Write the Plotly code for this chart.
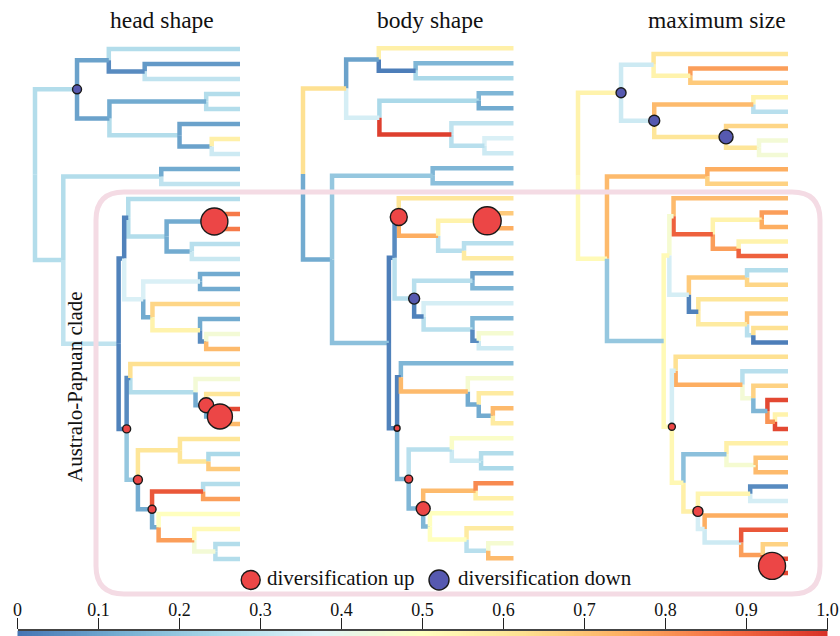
import numpy as np
import plotly.graph_objects as go

# ---------------- data ----------------
# shared phylogeny: child -> parent (children listed top-to-bottom)
TREE_PARENT = {
    "A": "root", "A1": "A", "t01": "A1", "A1a": "A1", "t02": "A1a", "t03": "A1a",
    "A2": "A", "A2a": "A2", "t04": "A2a", "t05": "A2a", "A2b": "A2", "t06": "A2b",
    "A2b1": "A2b", "t07": "A2b1", "t08": "A2b1",
    "B": "root", "C": "B", "t09": "C", "t10": "C",
    "D": "B", "N1": "D", "Q": "N1", "t11": "Q", "Q1": "Q", "Q1a": "Q1", "t12": "Q1a", "t13": "Q1a",
    "Q1b": "Q1", "t14": "Q1b", "t15": "Q1b",
    "R": "N1", "R1": "R", "t16": "R1", "t17": "R1", "R2": "R", "t18": "R2", "R2a": "R2", "t19": "R2a",
    "R2a1": "R2a", "t20": "R2a1", "t21": "R2a1",
    "X": "D", "S": "X", "t22": "S", "S1": "S", "t23": "S1", "S2": "S1", "t24": "S2", "S3": "S2",
    "t25": "S3", "S4": "S3", "t26": "S4", "t26b": "S4",
    "L": "X", "L1": "L", "t27": "L1", "L1a": "L1", "t28": "L1a", "t29": "L1a",
    "M": "L", "M1": "M", "t30": "M1", "t31": "M1", "M2": "M", "t32": "M2", "M3": "M2", "t33": "M3",
    "M4": "M3", "t34": "M4", "M5": "M4", "t35": "M5", "t35b": "M5",
}
# node depths (fraction of root-to-tip height); tips are at 1.0
NODE_DEPTH = {
    "root": 0.0, "A": 0.205, "A1": 0.36, "A1a": 0.535, "A2": 0.363, "A2a": 0.835, "A2b": 0.705,
    "A2b1": 0.862, "B": 0.138, "C": 0.616, "D": 0.408, "N1": 0.435, "Q": 0.455, "Q1": 0.642,
    "Q1a": 0.875, "Q1b": 0.765, "R": 0.528, "R1": 0.805, "R2": 0.573, "R2a": 0.805, "R2a1": 0.835,
    "X": 0.447, "S": 0.465, "S1": 0.783, "S2": 0.835, "S3": 0.902, "S4": 0.938,
    "L": 0.502, "L1": 0.707, "L1a": 0.846, "M": 0.571, "M1": 0.82, "M2": 0.603, "M3": 0.777,
    "M4": 0.88, "M5": 0.924,
}
# taxa without data for a trait
HEAD_MISSING = ["t26b", "t35b"]
BODY_MISSING = ["t26b", "t35b"]
SIZE_MISSING = []

# rate values (0..1) mapped on each branch
HEAD_VALUES = {
    "A": 0.27, "A1": 0.1, "t01": 0.27, "A1a": 0.05, "t02": 0.08, "t03": 0.3, "A2": 0.1, "A2a": 0.12,
    "t04": 0.27, "t05": 0.27, "A2b": 0.27, "t06": 0.1, "A2b1": 0.1, "t07": 0.56, "t08": 0.33,
    "B": 0.27, "C": 0.27, "t09": 0.12, "t10": 0.3, "D": 0.3, "N1": 0.03, "Q": 0.03, "t11": 0.27,
    "Q1": 0.27, "Q1a": 0.12, "t12": 0.85, "t13": 0.85, "Q1b": 0.12, "t14": 0.28, "t15": 0.32,
    "R": 0.36, "R1": 0.36, "t16": 0.12, "t17": 0.12, "R2": 0.12, "t18": 0.65, "R2a": 0.55,
    "t19": 0.12, "R2a1": 0.05, "t20": 0.45, "t21": 0.72, "X": 0.03, "S": 0.05, "t22": 0.62,
    "S1": 0.27, "t23": 0.45, "S2": 0.12, "t24": 0.6, "S3": 0.12, "t25": 0.95, "S4": 0.72,
    "t26": 0.72, "t26b": 0.72, "L": 0.2, "L1": 0.6, "t27": 0.6, "L1a": 0.6, "t28": 0.25,
    "t29": 0.68, "M": 0.12, "M1": 0.92, "t30": 0.27, "t31": 0.78, "M2": 0.12, "t32": 0.5,
    "M3": 0.78, "t33": 0.52, "M4": 0.45, "t34": 0.27, "M5": 0.27, "t35": 0.27, "t35b": 0.27,
}
BODY_VALUES = {
    "A": 0.62, "A1": 0.1, "t01": 0.56, "A1a": 0.02, "t02": 0.15, "t03": 0.25, "A2": 0.35, "A2a": 0.25,
    "t04": 0.15, "t05": 0.12, "A2b": 0.97, "t06": 0.3, "A2b1": 0.28, "t07": 0.36, "t08": 0.33,
    "B": 0.12, "C": 0.2, "t09": 0.15, "t10": 0.18, "D": 0.18, "N1": 0.02, "Q": 0.05, "t11": 0.6,
    "Q1": 0.75, "Q1a": 0.55, "t12": 0.68, "t13": 0.75, "Q1b": 0.28, "t14": 0.28, "t15": 0.58,
    "R": 0.28, "R1": 0.28, "t16": 0.1, "t17": 0.15, "R2": 0.03, "t18": 0.35, "R2a": 0.28,
    "t19": 0.15, "R2a1": 0.05, "t20": 0.46, "t21": 0.33, "X": 0.03, "S": 0.03, "t22": 0.15,
    "S1": 0.72, "t23": 0.46, "S2": 0.12, "t24": 0.58, "S3": 0.12, "t25": 0.72, "S4": 0.58,
    "t26": 0.58, "t26b": 0.58, "L": 0.15, "L1": 0.28, "t27": 0.48, "L1a": 0.33, "t28": 0.27,
    "t29": 0.25, "M": 0.15, "M1": 0.72, "t30": 0.82, "t31": 0.56, "M2": 0.15, "t32": 0.5,
    "M3": 0.5, "t33": 0.58, "M4": 0.28, "t34": 0.46, "M5": 0.72, "t35": 0.72, "t35b": 0.72,
}
SIZE_VALUES = {
    "A": 0.55, "A1": 0.33, "t01": 0.6, "A1a": 0.55, "t02": 0.78, "t03": 0.68, "A2": 0.33, "A2a": 0.72,
    "t04": 0.55, "t05": 0.28, "A2b": 0.6, "t06": 0.65, "A2b1": 0.6, "t07": 0.45, "t08": 0.45,
    "B": 0.52, "C": 0.72, "t09": 0.75, "t10": 0.66, "D": 0.2, "N1": 0.52, "Q": 0.46, "t11": 0.72,
    "Q1": 0.9, "Q1a": 0.55, "t12": 0.78, "t13": 0.75, "Q1b": 0.78, "t14": 0.55, "t15": 0.9,
    "R": 0.35, "R1": 0.68, "t16": 0.27, "t17": 0.65, "R2": 0.03, "t18": 0.6, "R2a": 0.58,
    "t19": 0.7, "R2a1": 0.28, "t20": 0.62, "t21": 0.02, "X": 0.52, "S": 0.35, "t22": 0.62,
    "S1": 0.75, "t23": 0.28, "S2": 0.45, "t24": 0.66, "S3": 0.15, "t25": 0.95, "S4": 0.8,
    "t26": 0.55, "t26b": 0.95, "L": 0.53, "L1": 0.18, "t27": 0.56, "L1a": 0.46, "t28": 0.7,
    "t29": 0.72, "M": 0.56, "M1": 0.54, "t30": 0.05, "t31": 0.35, "M2": 0.35, "t32": 0.75,
    "M3": 0.33, "t33": 0.92, "M4": 0.78, "t34": 0.66, "M5": 0.92, "t35": 0.95, "t35b": 0.95,
}
# diversification shifts: node -> relative magnitude
HEAD_UP = {"Q1a": 2.7, "S2": 1.5, "S3": 2.5, "X": 0.8, "L": 0.9, "M": 0.8}
HEAD_DOWN = {"A": 0.9}
BODY_UP = {"Q": 1.7, "Q1a": 2.8, "X": 0.6, "L": 0.8, "M": 1.4}
BODY_DOWN = {"R": 1.1}
SIZE_UP = {"X": 0.7, "M": 1.0, "M5": 2.7}
SIZE_DOWN = {"A": 1.0, "A2": 1.1, "A2b": 1.4}

PANEL_TITLES = ["head shape", "body shape", "maximum size"]
CLADE_LABEL = "Australo-Papuan clade"
LEGEND_LABELS = ["diversification up", "diversification down"]
CB_TICKS = [0.0, 0.1, 0.2, 0.3, 0.4, 0.5, 0.6, 0.7, 0.8, 0.9, 1.0]
CB_TICKTEXT = ["0", "0.1", "0.2", "0.3", "0.4", "0.5", "0.6", "0.7", "0.8", "0.9", "1.0"]

# ---------------- style ----------------
W, H = 840, 636
FONT = "Liberation Serif"
CSTOPS = [(0.0, (69, 117, 180)), (0.125, (116, 173, 209)), (0.25, (171, 217, 233)),
          (0.375, (224, 243, 248)), (0.5, (255, 255, 191)), (0.625, (254, 224, 144)),
          (0.75, (253, 174, 97)), (0.875, (244, 109, 67)), (1.0, (215, 48, 39))]
UP_COLOR = "#ec4646"
DOWN_COLOR = "#5659b0"
MARK_SCALE = 10.0


def cmap(v):
    v = min(max(v, 0.0), 1.0)
    for (a, ca), (b, cb) in zip(CSTOPS[:-1], CSTOPS[1:]):
        if v <= b:
            t = (v - a) / (b - a)
            c = [round(ca[i] + t * (cb[i] - ca[i])) for i in range(3)]
            return "rgb(%d,%d,%d)" % tuple(c)
    return "rgb(%d,%d,%d)" % CSTOPS[-1][1]


children = {}
for ch, par in TREE_PARENT.items():
    children.setdefault(par, []).append(ch)


def layout_tree(missing):
    missing = set(missing)
    eff = {}

    def prune(n):
        if n not in children:
            return None if n in missing else n
        kids = [k for k in (prune(c) for c in children[n]) if k is not None]
        if not kids:
            return None
        if len(kids) == 1:
            return kids[0]
        eff[n] = kids
        return n

    root = prune("root")
    pos = {}
    counter = [0]

    def place(n, parent):
        if n not in eff:
            y = counter[0]
            counter[0] += 1
            pos[n] = (parent, 1.0, y)
            return y
        ys = [place(k, n) for k in eff[n]]
        y = (ys[0] + ys[-1]) / 2.0
        pos[n] = (parent, NODE_DEPTH[n], y)
        return y

    place(root, None)
    return pos


PANELS = [
    dict(values=HEAD_VALUES, up=HEAD_UP, down=HEAD_DOWN, missing=HEAD_MISSING,
         root_px=35, tip_px=240, top_px=49, step_px=15.0, title_x=162),
    dict(values=BODY_VALUES, up=BODY_UP, down=BODY_DOWN, missing=BODY_MISSING,
         root_px=303, tip_px=513.5, top_px=48.3, step_px=15.0, title_x=429.5),
    dict(values=SIZE_VALUES, up=SIZE_UP, down=SIZE_DOWN, missing=SIZE_MISSING,
         root_px=578, tip_px=788, top_px=54, step_px=14.42, title_x=717),
]

fig = go.Figure()
layout_axes = {}
XR = (-0.15, 1.1)

for k, P in enumerate(PANELS, start=1):
    xa = "x" if k == 1 else "x%d" % k
    ya = "y" if k == 1 else "y%d" % k
    pos = layout_tree(P["missing"])
    segs = {}
    for n, (par, d, y) in pos.items():
        if par is None:
            continue
        pdp, pyp = pos[par][1], pos[par][2]
        col = cmap(P["values"][n])
        xs, ys = segs.setdefault(col, ([], []))
        xs += [pdp, pdp, d, None]
        ys += [pyp, y, y, None]
    for col, (xs, ys) in segs.items():
        fig.add_trace(go.Scatter(x=xs, y=ys, mode="lines", line=dict(color=col, width=4.5),
                                 xaxis=xa, yaxis=ya, hoverinfo="skip", showlegend=False))
    for shifts, color in ((P["down"], DOWN_COLOR), (P["up"], UP_COLOR)):
        names = list(shifts)
        fig.add_trace(go.Scatter(
            x=[pos[n][1] for n in names], y=[pos[n][2] for n in names], mode="markers",
            marker=dict(size=[shifts[n] * MARK_SCALE for n in names], color=color, opacity=1,
                        line=dict(color="#1a1a1a", width=1.4)),
            xaxis=xa, yaxis=ya, hoverinfo="skip", showlegend=False, cliponaxis=False))
    span = P["tip_px"] - P["root_px"]
    d0 = (P["root_px"] + XR[0] * span) / W
    d1 = (P["root_px"] + XR[1] * span) / W
    top = -P["top_px"] / P["step_px"]
    bottom = top + H / P["step_px"]
    xkey = "xaxis" if k == 1 else "xaxis%d" % k
    ykey = "yaxis" if k == 1 else "yaxis%d" % k
    layout_axes[xkey] = dict(domain=[d0, d1], range=list(XR), visible=False, anchor=ya,
                             fixedrange=True, automargin=False)
    layout_axes[ykey] = dict(domain=[0, 1], range=[bottom, top], visible=False, anchor=xa,
                             fixedrange=True, automargin=False)

# colour bar (gradient strip on its own axis)
cb_x = np.linspace(0, 1, 300)
fig.add_trace(go.Heatmap(z=[cb_x], x=cb_x, y=[0], zmin=0, zmax=1,
                         colorscale=[[s, "rgb(%d,%d,%d)" % c] for s, c in CSTOPS],
                         showscale=False, xaxis="x4", yaxis="y4", hoverinfo="skip"))
layout_axes["xaxis4"] = dict(domain=[17.5 / W, 827.5 / W], range=[0, 1], side="top", anchor="y4",
                             tickvals=CB_TICKS, ticktext=CB_TICKTEXT, ticks="outside", ticklen=11,
                             tickwidth=1.6, tickcolor="#222", showline=True, linecolor="#444",
                             linewidth=1.6, showgrid=False, zeroline=False, automargin=False,
                             ticklabelstandoff=-5,
                             tickfont=dict(family=FONT, size=18, color="#111"), fixedrange=True)
layout_axes["yaxis4"] = dict(domain=[0, 5.5 / H], range=[-0.5, 0.5], visible=False, anchor="x4",
                             fixedrange=True, automargin=False)

# overlay axis in pixel units for frame/legend/labels
fig.add_trace(go.Scatter(x=[250.7, 439], y=[580, 580], mode="markers",
                         marker=dict(size=[19, 20], color=[UP_COLOR, DOWN_COLOR], opacity=1,
                                     line=dict(color="#1a1a1a", width=1.4)),
                         xaxis="x5", yaxis="y5", hoverinfo="skip", showlegend=False,
                         cliponaxis=False))
layout_axes["xaxis5"] = dict(domain=[0, 1], range=[0, W], visible=False, anchor="y5",
                             fixedrange=True, automargin=False)
layout_axes["yaxis5"] = dict(domain=[0, 1], range=[H, 0], visible=False, anchor="x5",
                             fixedrange=True, automargin=False)

fx0, fx1, fy0, fy1, r = 96, 820, 192, 594, 28
frame_path = ("M %f,%f L %f,%f Q %f,%f %f,%f L %f,%f Q %f,%f %f,%f L %f,%f Q %f,%f %f,%f "
              "L %f,%f Q %f,%f %f,%f Z") % (
    fx0 + r, fy0, fx1 - r, fy0, fx1, fy0, fx1, fy0 + r, fx1, fy1 - r, fx1, fy1, fx1 - r, fy1,
    fx0 + r, fy1, fx0, fy1, fx0, fy1 - r, fx0, fy0 + r, fx0, fy0, fx0 + r, fy0)

annotations = []
for P, t in zip(PANELS, PANEL_TITLES):
    annotations.append(dict(x=P["title_x"], y=20, xref="x5", yref="y5", text=t, showarrow=False,
                            xanchor="center", yanchor="middle",
                            font=dict(family=FONT, size=23.5, color="#111")))
annotations.append(dict(x=75, y=387, xref="x5", yref="y5", text=CLADE_LABEL, showarrow=False,
                        textangle=-90, xanchor="center", yanchor="middle",
                        font=dict(family=FONT, size=21, color="#111")))
for xx, t in ((265, LEGEND_LABELS[0]), (456, LEGEND_LABELS[1])):
    annotations.append(dict(x=xx, y=578, xref="x5", yref="y5", text=t, showarrow=False,
                            xanchor="left", yanchor="middle",
                            font=dict(family=FONT, size=21, color="#111")))

fig.update_layout(
    width=W, height=H, margin=dict(l=0, r=0, t=0, b=0, autoexpand=False),
    paper_bgcolor="white", plot_bgcolor="rgba(0,0,0,0)", showlegend=False,
    shapes=[dict(type="path", path=frame_path, xref="x5", yref="y5",
                 line=dict(color="#f4dbe4", width=5), fillcolor="rgba(0,0,0,0)", layer="below")],
    annotations=annotations,
    **layout_axes,
)

fig.write_html("out.html", config={"displayModeBar": False, "staticPlot": True},
               post_script="document.body.style.margin='0px';"
                           "document.body.style.overflow='hidden';")
